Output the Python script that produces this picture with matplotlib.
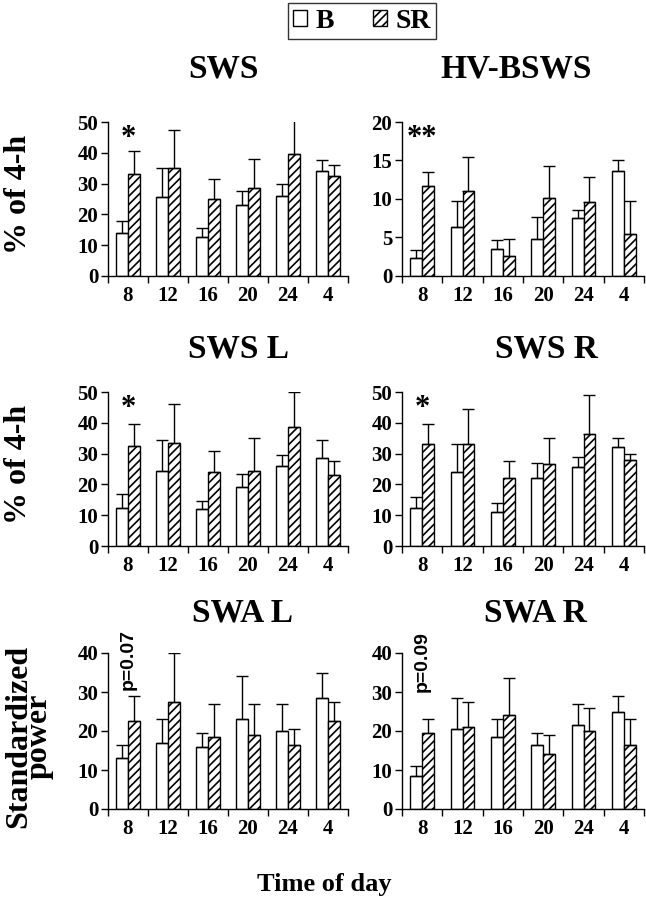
import matplotlib
matplotlib.use('Agg')
import matplotlib.pyplot as plt
from matplotlib.patches import Patch
import numpy as np

plt.rcParams['font.family'] = 'Liberation Serif'
plt.rcParams['font.weight'] = 'bold'
plt.rcParams['hatch.linewidth'] = 1.2

hours = ['8', '12', '16', '20', '24', '4']

# SWS
sws_b = [14, 25.5, 12.5, 23, 26, 34]
sws_b_err = [4, 9.5, 3, 4.5, 4, 3.5]
sws_sr = [33, 35, 25, 28.5, 39.5, 32.5]
sws_sr_err = [7.5, 12.5, 6.5, 9.5, 11, 3.5]
# HV-BSWS
hv_b = [2.4, 6.4, 3.5, 4.8, 7.5, 13.7]
hv_b_err = [1.0, 3.4, 1.2, 2.8, 1.1, 1.4]
hv_sr = [11.7, 11.1, 2.6, 10.1, 9.6, 5.4]
hv_sr_err = [1.8, 4.3, 2.2, 4.2, 3.2, 4.4]
# SWS L
swsl_b = [12.5, 24.5, 12, 19, 26, 28.5]
swsl_b_err = [4.5, 10, 2.5, 4.5, 3.5, 6]
swsl_sr = [32.5, 33.5, 24, 24.5, 38.5, 23]
swsl_sr_err = [7, 12.5, 7, 10.5, 11.5, 4.5]
# SWS R
swsr_b = [12.5, 24, 11, 22, 25.5, 32]
swsr_b_err = [3.5, 9, 3, 5, 3.5, 3]
swsr_sr = [33, 33, 22, 26.5, 36.5, 28]
swsr_sr_err = [6.5, 11.5, 5.5, 8.5, 12.5, 2]
# SWA L
swal_b = [13, 17, 16, 23, 20, 28.5]
swal_b_err = [3.5, 6, 3.5, 11, 7, 6.5]
swal_sr = [22.5, 27.5, 18.5, 19, 16.5, 22.5]
swal_sr_err = [6.5, 12.5, 8.5, 8, 4, 5]
# SWA R
swar_b = [8.5, 20.5, 18.5, 16.5, 21.5, 25]
swar_b_err = [2.5, 8, 4.5, 3, 5.5, 4]
swar_sr = [19.5, 21, 24, 14, 20, 16.5]
swar_sr_err = [3.5, 6.5, 9.5, 5, 6, 6.5]

W, H = 646, 899
fig = plt.figure(figsize=(W / 100, H / 100), dpi=100)


def px_axes(x0, x1, ytop, ybot):
    return fig.add_axes([x0 / W, 1 - ybot / H, (x1 - x0) / W, (ybot - ytop) / H])


def ftext(x, y, s, **kw):
    # place text by pixel position in the figure
    return fig.text(x / W, 1 - y / H, s, **kw)


def panel(ax, b, be, sr, sre, ymax, step):
    x = np.arange(len(hours))
    w = 0.29
    ax.bar(x - w / 2, b, w, color='white', edgecolor='black', linewidth=1,
           yerr=[np.zeros(len(b)), be], capsize=4,
           error_kw=dict(elinewidth=1, capthick=1, ecolor='black'))
    ax.bar(x + w / 2, sr, w, color='white', edgecolor='black', linewidth=1,
           hatch='////', yerr=[np.zeros(len(sr)), sre], capsize=4,
           error_kw=dict(elinewidth=1, capthick=1, ecolor='black'))
    ax.set_xlim(-0.5, len(hours) - 0.5)
    ax.set_ylim(0, ymax)
    ax.set_yticks(np.arange(0, ymax + 0.1, step))
    ax.set_xticks(x)
    ax.set_xticklabels(hours, fontsize=15)
    ax.set_xticks(np.arange(-0.5, len(hours)), minor=True)
    ax.tick_params(axis='x', which='major', length=0, pad=7)
    ax.tick_params(axis='x', which='minor', length=5, width=1)
    ax.tick_params(axis='y', length=5, width=1, labelsize=15, pad=2)
    for s in ['top', 'right']:
        ax.spines[s].set_visible(False)
    ax.spines['left'].set_linewidth(1)
    ax.spines['bottom'].set_linewidth(1)


lx0, lx1 = 108, 348
rx0, rx1 = 402, 644
rows = [(122, 276), (392, 546), (653, 809)]

ax1 = px_axes(lx0, lx1, *rows[0])
panel(ax1, sws_b, sws_b_err, sws_sr, sws_sr_err, 50, 10)
ax2 = px_axes(rx0, rx1, *rows[0])
panel(ax2, hv_b, hv_b_err, hv_sr, hv_sr_err, 20, 5)
ax3 = px_axes(lx0, lx1, *rows[1])
panel(ax3, swsl_b, swsl_b_err, swsl_sr, swsl_sr_err, 50, 10)
ax4 = px_axes(rx0, rx1, *rows[1])
panel(ax4, swsr_b, swsr_b_err, swsr_sr, swsr_sr_err, 50, 10)
ax5 = px_axes(lx0, lx1, *rows[2])
panel(ax5, swal_b, swal_b_err, swal_sr, swal_sr_err, 40, 10)
ax6 = px_axes(rx0, rx1, *rows[2])
panel(ax6, swar_b, swar_b_err, swar_sr, swar_sr_err, 40, 10)

# panel titles
tkw = dict(ha='center', va='baseline', fontsize=24, fontweight='bold')
ftext(223, 77, 'SWS', **tkw)
ftext(516, 77, 'HV-BSWS', **tkw)
ftext(239, 357, 'SWS L', **tkw)
ftext(546, 357, 'SWS R', **tkw)
ftext(242, 622, 'SWA L', **tkw)
ftext(535, 622, 'SWA R', **tkw)

# significance marks
ax1.text(0, 44.5, '*', fontsize=22, ha='center', va='center')
ax2.text(0, 17.8, '**', fontsize=22, ha='center', va='center')
ax3.text(0, 44.5, '*', fontsize=22, ha='center', va='center')
ax4.text(0, 44.5, '*', fontsize=22, ha='center', va='center')
ax5.text(0, 30.5, 'p=0.07', rotation=90, ha='center', va='bottom',
         fontsize=14, family='Liberation Sans', fontweight='bold', clip_on=False)
ax6.text(0, 30, 'p=0.09', rotation=90, ha='center', va='bottom',
         fontsize=14, family='Liberation Sans', fontweight='bold', clip_on=False)

# y labels
ykw = dict(rotation=90, rotation_mode='anchor', ha='center', va='baseline',
           fontsize=23, fontweight='bold')
ftext(26, 194, '% of 4-h', **ykw)
ftext(26, 464, '% of 4-h', **ykw)
ftext(29, 736, 'Standardized\npower', rotation=90, ha='center', va='center',
      multialignment='center', fontsize=23, fontweight='bold', linespacing=0.62)

ftext(324, 891, 'Time of day', ha='center', va='baseline', fontsize=19,
      fontweight='bold')

handles = [Patch(facecolor='white', edgecolor='black', linewidth=1, label='B'),
           Patch(facecolor='white', edgecolor='black', linewidth=1, hatch='////', label='SR')]
leg = fig.legend(handles=handles, loc='center', bbox_to_anchor=(362 / W, 1 - 21 / H),
                 ncol=2, frameon=True, fancybox=False, edgecolor='black',
                 prop={'family': 'Liberation Serif', 'weight': 'bold', 'size': 20},
                 handlelength=0.5, handleheight=0.5, handletextpad=0.3,
                 columnspacing=1.4, borderpad=0.2, borderaxespad=0)
leg.get_frame().set_linewidth(1)

fig.savefig('out.png', dpi=100)
